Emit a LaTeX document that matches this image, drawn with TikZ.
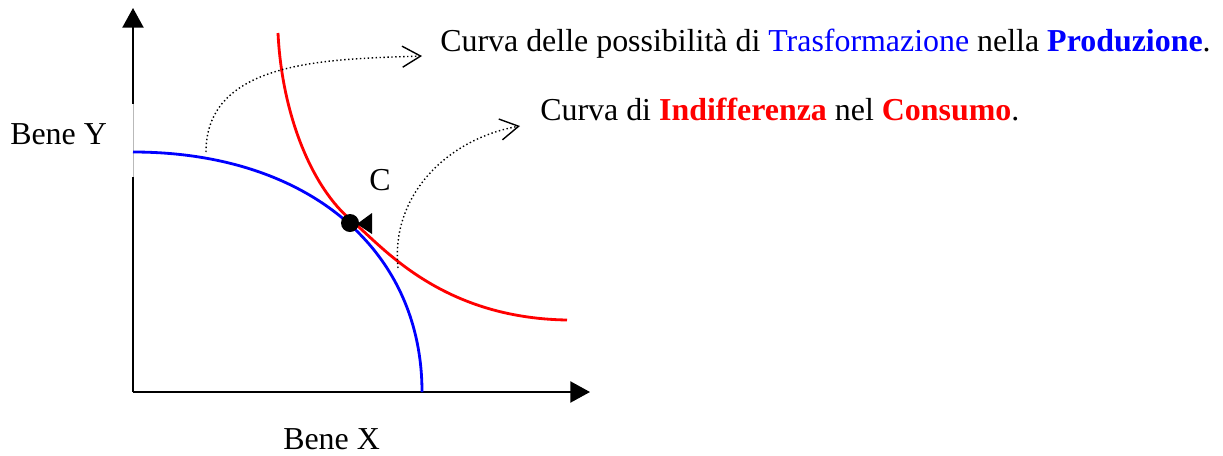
\documentclass[tikz,border=0pt]{standalone}
\usepackage{fontspec}
\setmainfont{Liberation Serif}
\usetikzlibrary{arrows.meta,positioning}
\definecolor{ppfblue}{RGB}{0,0,255}
\definecolor{icred}{RGB}{255,0,0}
\tikzset{
  axis/.style = {line width=1.4pt, -{Triangle[length=14pt, width=15pt]}},
  ppf/.style = {draw=ppfblue, line width=2pt},
  ic/.style = {draw=icred, line width=2pt},
  dotarrow/.style = {line width=1pt, dash pattern=on 1pt off 1.8pt, -{Straight Barb[length=13pt, width=15pt, line width=1pt]}},
  lbl/.style = {font=\fontsize{22.7}{26}\selectfont, inner sep=0pt, anchor=base west}
}

\begin{document}
\begin{tikzpicture}[x=0.025cm, y=-0.025cm]
  \useasboundingbox (0,0) rectangle (1223,455);
  % axes
  \coordinate (O) at (133,392);
  \coordinate (ytop) at (133,8);
  \coordinate (xend) at (590,392);
  \draw[axis] (O) -- (ytop);
  \draw[axis] (O) -- (xend);
  \fill[white] (130,104) rectangle (137,177);
  \draw[gray!55, line width=0.6pt] (133,104) -- (133,177);
  % curves
  \coordinate (ppfa) at (133,152);
  \coordinate (ppfb) at (422,392);
  \draw[ppf] (ppfa) .. controls (306,152) and (422,248) .. (ppfb);
  \coordinate (ica) at (278,33);
  \coordinate (ict) at (352,221);
  \coordinate (icb) at (567,320);
  \draw[ic] (ica) .. controls (282,115) and (312,188) .. (ict)
                  .. controls (382,246) and (440,318) .. (icb);
  % point C
  \node[circle, fill=black, inner sep=0pt, minimum size=0.45cm] (c) at (350,223) {};
  \fill (357,224) -- (372,213) -- (372,234) -- cycle;
  \node[lbl] (clbl) at (369,190) {C};
  % labels
  \node[lbl] (ytxt) at (10,144) {Bene Y};
  \node[lbl] (xtxt) at (283,449) {Bene X};
  \node[lbl] (ptp) at (440,51) {Curva delle possibilità di \textcolor{ppfblue}{Trasformazione} nella \textcolor{ppfblue}{\textbf{Produzione}}.};
  \node[lbl] (ind) at (540,120) {Curva di \textcolor{icred}{\textbf{Indifferenza}} nel \textcolor{icred}{\textbf{Consumo}}.};
  % dotted arrows
  \coordinate (da) at (206,152);
  \coordinate (db) at (422,56);
  \coordinate (dc) at (398,268);
  \coordinate (dd) at (520,126);
  \draw[dotarrow] (da) to[out=90, in=182] (db);
  \draw[dotarrow] (dc) to[out=96, in=190] (dd);
\end{tikzpicture}
\end{document}
